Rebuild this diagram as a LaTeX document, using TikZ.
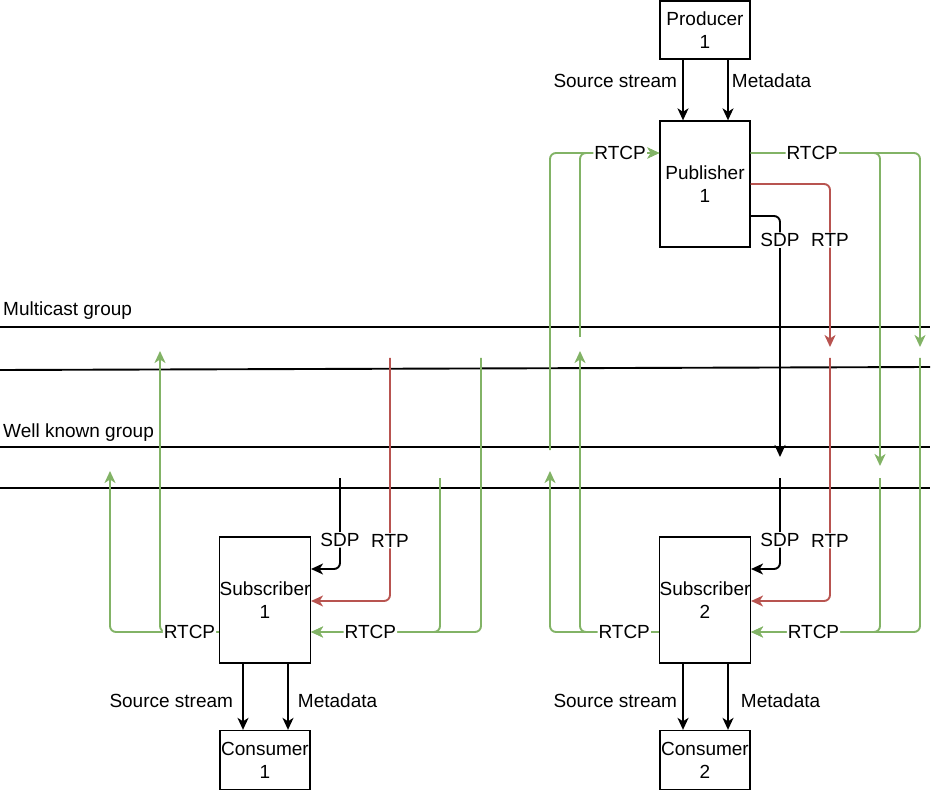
\documentclass[tikz,border=0pt]{standalone}
\usepackage{fontspec}
\setmainfont{Liberation Sans}
\usetikzlibrary{arrows.meta,calc}
\definecolor{grn}{HTML}{82B366}
\definecolor{rd}{HTML}{B85450}
\begin{document}
\begin{tikzpicture}[x=1pt,y=-1pt,
  font=\fontsize{19}{23}\selectfont,
  box/.style={draw=black,line width=1.3pt,minimum width=90pt,inner sep=0pt,align=center,fill=white},
  conn/.style={line width=1.9pt,rounded corners=6pt},
  tip/.style={-{Stealth[length=12pt,width=11pt,inset=3.5pt]}},
  blk/.style={conn,draw=black},
  gl/.style={conn,draw=grn},
  rl/.style={conn,draw=rd},
  lbl/.style={fill=white,inner sep=1pt},
  side/.style={inner sep=0pt},
  grp/.style={line width=1.9pt,draw=black}]

\useasboundingbox (0,0) rectangle (934,791);

% group lines
\coordinate (m1L) at (0,327);   \coordinate (m1R) at (930,327);
\coordinate (m2L) at (0,370);   \coordinate (m2R) at (930,367);
\coordinate (w1L) at (0,447);   \coordinate (w1R) at (930,447);
\coordinate (w2L) at (0,488);   \coordinate (w2R) at (930,488);
\draw[grp] (m1L) -- (m1R);
\draw[grp] (m2L) -- (m2R);
\draw[grp] (w1L) -- (w1R);
\draw[grp] (w2L) -- (w2R);
\node[anchor=base west,inner sep=0pt] (mlab) at (3,316) {Multicast group};
\node[anchor=base west,inner sep=0pt] (wlab) at (3,437) {Well known group};

% boxes
\node[box,minimum height=58pt]  (prod) at (705,30)  {Producer\\1};
\node[box,minimum height=126pt] (pub)  at (705,184) {Publisher\\1};
\node[box,minimum height=126pt] (sub1) at (265,600) {Subscriber\\1};
\node[box,minimum height=126pt] (sub2) at (705,600) {Subscriber\\2};
\node[box,minimum height=59pt]  (con1) at (265,760) {Consumer\\1};
\node[box,minimum height=59pt]  (con2) at (705,760) {Consumer\\2};

% free ends
\coordinate (pR880) at (880,466);
\coordinate (pR920) at (920,347);
\coordinate (pRTP)  at (830,347);
\coordinate (pSDP)  at (780,457);
\coordinate (s2R880) at (880,478);
\coordinate (s2R920) at (920,358);
\coordinate (s2RTP)  at (830,358);
\coordinate (s2SDP)  at (780,478);
\coordinate (s2L550) at (550,471);
\coordinate (s2L580) at (580,351);
\coordinate (pL550)  at (550,450);
\coordinate (pL580)  at (580,337);
\coordinate (s1SDP)  at (340,478);
\coordinate (s1RTP)  at (390,358);
\coordinate (s1R440) at (440,478);
\coordinate (s1R481) at (481,358);
\coordinate (s1L110) at (110,471);
\coordinate (s1L160) at (160,351);

% producer -> publisher
\draw[blk,tip] ($(prod.south)+(-22,0)$) -- node[side,pos=0.355,anchor=east,xshift=-5pt]{Source stream} ($(pub.north)+(-22,0)$);
\draw[blk,tip] ($(prod.south)+(23,0)$) -- node[side,pos=0.355,anchor=west,xshift=3pt]{Metadata} ($(pub.north)+(23,0)$);

% subscribers -> consumers
\draw[blk,tip] ($(sub1.south)+(-22,0)$) -- node[side,pos=0.56,anchor=east,xshift=-9pt]{Source stream} ($(con1.north)+(-22,0)$);
\draw[blk,tip] ($(sub1.south)+(23,0)$) -- node[side,pos=0.56,anchor=west,xshift=9pt]{Metadata} ($(con1.north)+(23,0)$);
\draw[blk,tip] ($(sub2.south)+(-22,0)$) -- node[side,pos=0.56,anchor=east,xshift=-5pt]{Source stream} ($(con2.north)+(-22,0)$);
\draw[blk,tip] ($(sub2.south)+(23,0)$) -- node[side,pos=0.56,anchor=west,xshift=12pt]{Metadata} ($(con2.north)+(23,0)$);

% publisher outputs
\draw[rl,tip] (pub.east) -| node[lbl,pos=0.672]{RTP} (pRTP);
\draw[blk,tip] ($(pub.east)+(0,32)$) -| node[lbl,pos=0.55]{SDP} (pSDP);
\draw[gl,tip] ($(pub.east)+(0,-31)$) -| (pR920);
\draw[gl,tip] ($(pub.east)+(0,-31)$) -| node[lbl,pos=0.238]{RTCP} (pR880);

% publisher RTCP input
\draw[gl,tip] (pL550) |- ($(pub.west)+(0,-31)$);
\draw[gl,tip] (pL580) |- node[lbl,pos=0.753]{RTCP} ($(pub.west)+(0,-31)$);

% subscriber 2 inputs
\draw[blk,tip] (s2SDP) |- node[lbl,pos=0.34]{SDP} ($(sub2.east)+(0,-31)$);
\draw[rl,tip] (s2RTP) |- node[lbl,pos=0.376]{RTP} ($(sub2.east)+(0,1)$);
\draw[gl,tip] (s2R920) |- ($(sub2.east)+(0,32)$);
\draw[gl,tip] (s2R880) |- node[lbl,pos=0.758]{RTCP} ($(sub2.east)+(0,32)$);

% subscriber 2 RTCP output
\draw[gl,tip] ($(sub2.west)+(0,32)$) -| (s2L550);
\draw[gl,tip] ($(sub2.west)+(0,32)$) -| node[lbl,pos=0.22]{RTCP} (s2L580);

% subscriber 1 inputs
\draw[blk,tip] (s1SDP) |- node[lbl,pos=0.34]{SDP} ($(sub1.east)+(0,-31)$);
\draw[rl,tip] (s1RTP) |- node[lbl,pos=0.376]{RTP} ($(sub1.east)+(0,1)$);
\draw[gl,tip] (s1R481) |- ($(sub1.east)+(0,32)$);
\draw[gl,tip] (s1R440) |- node[lbl,pos=0.77]{RTCP} ($(sub1.east)+(0,32)$);

% subscriber 1 RTCP output
\draw[gl,tip] ($(sub1.west)+(0,32)$) -| (s1L110);
\draw[gl,tip] ($(sub1.west)+(0,32)$) -| node[lbl,pos=0.25]{RTCP} (s1L160);

\end{tikzpicture}
\end{document}
